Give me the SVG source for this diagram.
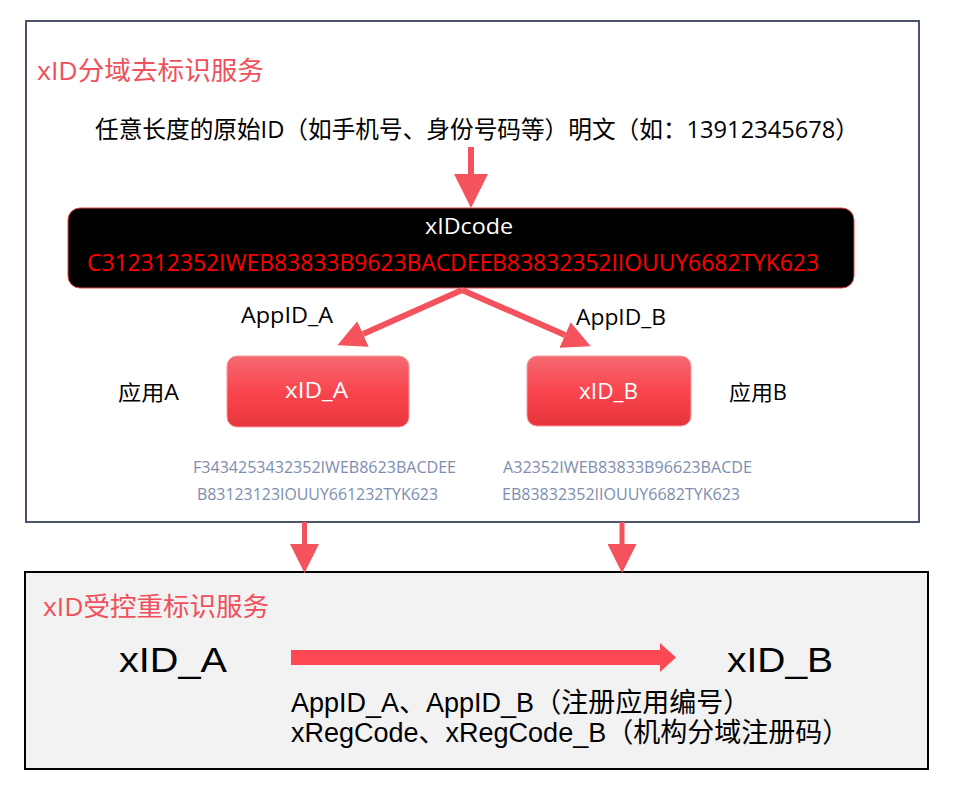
<svg xmlns="http://www.w3.org/2000/svg" width="953" height="794" viewBox="0 0 953 794">
<style>
.ui{font-family:"Open Sans","Noto Sans CJK SC",sans-serif}
.hv{font-family:"Liberation Sans","Noto Sans CJK SC",sans-serif}
.title{fill:#ef505c;font-size:26px}
.blk{fill:#000}
.wht{fill:#fff}
.code{fill:#7d8db0;font-size:16px}
.arr{stroke:#f4525d;fill:none}
.node{fill:url(#ng);stroke:#f59aa0;stroke-width:1}
</style>
<defs>
<linearGradient id="ng" x1="0" y1="0" x2="0" y2="1">
<stop offset="0" stop-color="#f56a72"/>
<stop offset="0.5" stop-color="#f9454e"/>
<stop offset="1" stop-color="#e7353e"/>
</linearGradient>
<marker id="headL" viewBox="0 0 10 10" refX="0" refY="5" markerWidth="34" markerHeight="34" markerUnits="userSpaceOnUse" orient="auto"><path d="M0,0 L10,5 L0,10 z" fill="#f4525d"/></marker>
<marker id="headM" viewBox="0 0 10 10" refX="0" refY="5" markerWidth="28" markerHeight="28" markerUnits="userSpaceOnUse" orient="auto"><path d="M0,0 L10,5 L0,10 z" fill="#f4525d"/></marker>
<marker id="headS" viewBox="0 0 10 10" refX="0" refY="5" markerWidth="29" markerHeight="29" markerUnits="userSpaceOnUse" orient="auto"><path d="M0,0 L10,5 L0,10 z" fill="#f4525d"/></marker>
</defs>
<rect width="953" height="794" fill="#fff"/>

<g id="deid-service">
<rect x="26" y="21" width="893" height="501" fill="#fff" stroke="#4a5569" stroke-width="2"/>
<text class="ui title" x="37" y="80" textLength="227" lengthAdjust="spacingAndGlyphs">xID分域去标识服务</text>
</g>

<g id="source-text">
<text class="ui blk" x="95" y="138" font-size="24" textLength="764" lengthAdjust="spacingAndGlyphs">任意长度的原始ID（如手机号、身份号码等）明文（如：13912345678）</text>
</g>

<g id="xidcode">
<rect x="68" y="208" width="786" height="80" rx="12" fill="#000" stroke="#e8434b" stroke-width="1"/>
<text class="ui wht" x="425" y="234" font-size="22" textLength="88" lengthAdjust="spacingAndGlyphs">xIDcode</text>
<text class="ui" x="87" y="271" font-size="23" fill="#ff0000" textLength="732" lengthAdjust="spacingAndGlyphs">C312312352IWEB83833B9623BACDEEB83832352IIOUUY6682TYK623</text>
</g>

<g id="xid-a">
<rect class="node" x="227" y="356" width="182" height="71" rx="10"/>
<text class="ui wht" x="285" y="398" font-size="21" textLength="63" lengthAdjust="spacingAndGlyphs">xID_A</text>
</g>
<g id="xid-b">
<rect class="node" x="527" y="356" width="164" height="70" rx="10"/>
<text class="ui wht" x="579" y="399" font-size="21" textLength="59" lengthAdjust="spacingAndGlyphs">xID_B</text>
</g>

<g id="labels">
<text class="ui blk" x="241" y="323" font-size="21" textLength="92" lengthAdjust="spacingAndGlyphs">AppID_A</text>
<text class="ui blk" x="576" y="325" font-size="21" textLength="90" lengthAdjust="spacingAndGlyphs">AppID_B</text>
<text class="ui blk" x="118" y="400" font-size="21" textLength="61" lengthAdjust="spacingAndGlyphs">应用A</text>
<text class="ui blk" x="729" y="400" font-size="21" textLength="58" lengthAdjust="spacingAndGlyphs">应用B</text>
<text class="ui code" x="193" y="473" textLength="263" lengthAdjust="spacingAndGlyphs">F3434253432352IWEB8623BACDEE</text>
<text class="ui code" x="197" y="500" textLength="241" lengthAdjust="spacingAndGlyphs">B83123123IOUUY661232TYK623</text>
<text class="ui code" x="503" y="473" textLength="249" lengthAdjust="spacingAndGlyphs">A32352IWEB83833B96623BACDE</text>
<text class="ui code" x="502" y="500" textLength="238" lengthAdjust="spacingAndGlyphs">EB83832352IIOUUY6682TYK623</text>
</g>

<g id="reid-service">
<rect x="25" y="572" width="903" height="197" fill="#f2f2f2" stroke="#000" stroke-width="2"/>
<text class="ui title" x="43" y="616" textLength="226" lengthAdjust="spacingAndGlyphs">xID受控重标识服务</text>
<text class="hv blk" x="119" y="672" font-size="35" textLength="108" lengthAdjust="spacingAndGlyphs">xID_A</text>
<text class="hv blk" x="727" y="672" font-size="35" textLength="106" lengthAdjust="spacingAndGlyphs">xID_B</text>
<text class="hv blk" x="291" y="712" font-size="27">AppID_A、AppID_B（注册应用编号）</text>
<text class="hv blk" x="291" y="742" font-size="27">xRegCode、xRegCode_B（机构分域注册码）</text>
</g>

<g id="connectors">
<line class="arr" x1="471" y1="147" x2="471" y2="174" stroke-width="6" marker-end="url(#headL)"/>
<line class="arr" x1="462" y1="290" x2="363" y2="334" stroke-width="6" marker-end="url(#headM)"/>
<line class="arr" x1="462" y1="290" x2="565" y2="335" stroke-width="6" marker-end="url(#headM)"/>
<line class="arr" x1="304.5" y1="522" x2="304.5" y2="544" stroke-width="5" marker-end="url(#headS)"/>
<line class="arr" x1="622" y1="522" x2="622" y2="544" stroke-width="5" marker-end="url(#headS)"/>
<path d="M291,650 H660 V643 L676,657.5 L660,672 V665 H291 Z" fill="#fc4852"/>
</g>
</svg>
